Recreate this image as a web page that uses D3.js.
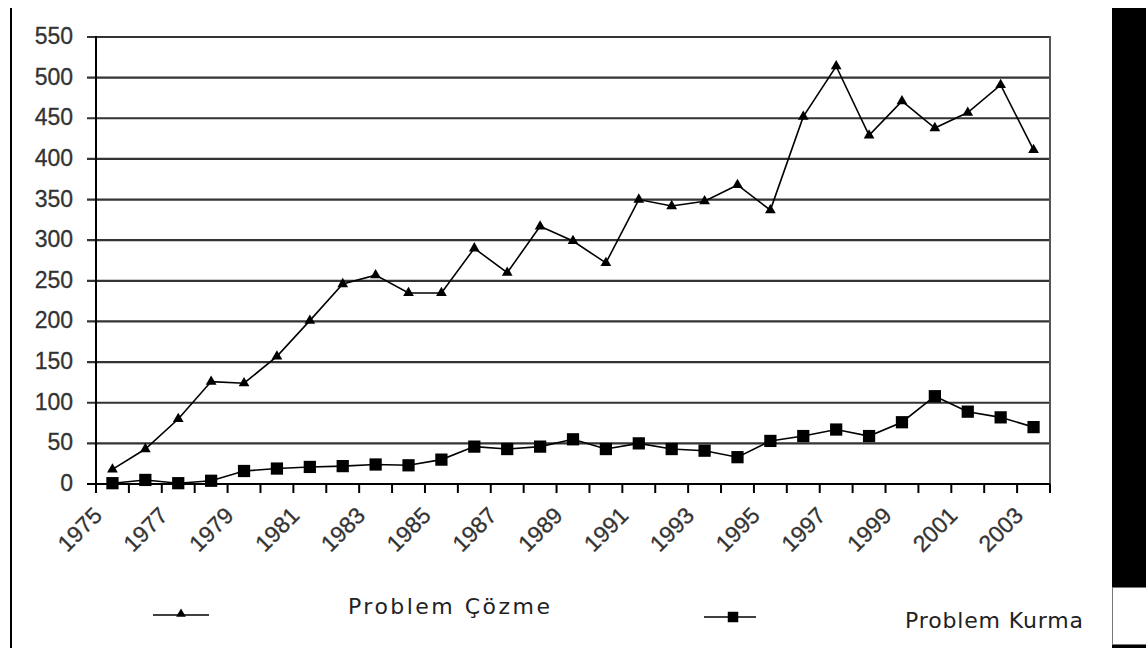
<!DOCTYPE html>
<html>
<head>
<meta charset="utf-8">
<script src="https://cdn.jsdelivr.net/npm/d3@7"></script>
<style>
  html, body { margin: 0; padding: 0; background: #fff; }
  svg { display: block; }
</style>
</head>
<body>
<svg id="chart" width="1146" height="648"></svg>
<script>
// Yearly counts, 1975–2003
const years = ["1975","1976","1977","1978","1979","1980","1981","1982","1983","1984",
  "1985","1986","1987","1988","1989","1990","1991","1992","1993","1994",
  "1995","1996","1997","1998","1999","2000","2001","2002","2003"];
const problemCozme = [18,43,80,126,124,157,201,246,257,235,
  235,290,260,317,299,272,350,342,348,368,
  337,452,514,429,471,438,457,491,411];
const problemKurma = [1,5,1,4,16,19,21,22,24,23,
  30,46,43,46,55,43,50,43,41,33,
  53,59,67,59,76,108,89,82,70];
const yTicks = [0,50,100,150,200,250,300,350,400,450,500,550];
const xLabels = ["1975","1977","1979","1981","1983","1985","1987","1989",
  "1991","1993","1995","1997","1999","2001","2003"];
const seriesNames = ["Problem Çözme", "Problem Kurma"];

const svg = d3.select("#chart");
const plotLeft = 96, plotRight = 1050, plotTop = 37, plotBottom = 484;

const x = d3.scaleBand().domain(years).range([plotLeft, plotRight]).padding(0);
const y = d3.scaleLinear().domain([0, 550]).range([plotBottom, plotTop]);
const cx = d => x(d) + x.bandwidth() / 2;

// page frame: left rule and right-hand black panel
svg.append("line").attr("x1", 11).attr("x2", 11).attr("y1", 8).attr("y2", 648)
  .attr("stroke", "#000").attr("stroke-width", 2);
svg.append("rect").attr("x", 1112).attr("y", 8).attr("width", 34).attr("height", 579)
  .attr("fill", "#000");
svg.append("rect").attr("x", 1112.5).attr("y", 587.5).attr("width", 40).attr("height", 57)
  .attr("fill", "#fff").attr("stroke", "#777").attr("stroke-width", 1);
svg.append("rect").attr("x", 1112).attr("y", 645).attr("width", 34).attr("height", 3)
  .attr("fill", "#000");

// horizontal gridlines with left-pointing ticks
svg.append("g").selectAll("line").data(yTicks.filter(v => v > 0)).join("line")
  .attr("x1", plotLeft - 9).attr("x2", plotRight)
  .attr("y1", d => y(d)).attr("y2", d => y(d))
  .attr("stroke", "#333").attr("stroke-width", 2.2);

// y tick labels
svg.append("g").selectAll("text").data(yTicks).join("text")
  .attr("x", 73).attr("y", d => y(d) + 7)
  .attr("text-anchor", "end")
  .attr("font-family", "'Liberation Sans', Arial, sans-serif")
  .attr("font-size", 23).attr("fill", "#333")
  .attr("stroke", "#333").attr("stroke-width", 0.3)
  .text(d => d);

// right border of the plot
svg.append("line").attr("x1", plotRight).attr("x2", plotRight)
  .attr("y1", plotTop - 1).attr("y2", plotBottom + 9)
  .attr("stroke", "#555").attr("stroke-width", 2);

// x axis line and category boundary ticks
svg.append("line").attr("x1", plotLeft - 9).attr("x2", plotRight)
  .attr("y1", plotBottom).attr("y2", plotBottom)
  .attr("stroke", "#000").attr("stroke-width", 2);
const bounds = years.map(d => x(d)).concat([plotRight]);
svg.append("g").selectAll("line").data(bounds).join("line")
  .attr("x1", d => d).attr("x2", d => d)
  .attr("y1", plotBottom).attr("y2", plotBottom + 9)
  .attr("stroke", "#000").attr("stroke-width", 2);

// y axis line
svg.append("line").attr("x1", plotLeft).attr("x2", plotLeft)
  .attr("y1", plotTop - 1).attr("y2", plotBottom + 9)
  .attr("stroke", "#000").attr("stroke-width", 2);

// rotated year labels
svg.append("g").selectAll("text").data(xLabels).join("text")
  .attr("transform", d => `translate(${cx(d) - 9},${plotBottom + 33}) rotate(-45)`)
  .attr("text-anchor", "end")
  .attr("font-family", "'Liberation Sans', Arial, sans-serif")
  .attr("font-size", 23).attr("fill", "#333")
  .attr("stroke", "#333").attr("stroke-width", 0.3)
  .text(d => d);

// series lines
const line = d3.line().x((d, i) => cx(years[i])).y(d => y(d));
svg.append("path").datum(problemCozme).attr("d", line)
  .attr("fill", "none").attr("stroke", "#000").attr("stroke-width", 1.6);
svg.append("path").datum(problemKurma).attr("d", line)
  .attr("fill", "none").attr("stroke", "#000").attr("stroke-width", 1.6);

// markers
const tri = d3.symbol().type(d3.symbolTriangle).size(50);
const sq = d3.symbol().type(d3.symbolSquare).size(150);
svg.append("g").selectAll("path").data(problemCozme).join("path")
  .attr("d", tri)
  .attr("transform", (d, i) => `translate(${cx(years[i])},${y(d)})`)
  .attr("fill", "#000");
svg.append("g").selectAll("path").data(problemKurma).join("path")
  .attr("d", sq)
  .attr("transform", (d, i) => `translate(${cx(years[i])},${y(d)})`)
  .attr("fill", "#000");

// legend
const legend = svg.append("g");
legend.append("line").attr("x1", 153).attr("x2", 209).attr("y1", 615).attr("y2", 615)
  .attr("stroke", "#000").attr("stroke-width", 1.6);
legend.append("path").attr("d", d3.symbol().type(d3.symbolTriangle).size(40))
  .attr("transform", "translate(181,614)").attr("fill", "#000");
legend.append("text").attr("x", 348).attr("y", 614)
  .attr("font-family", "'DejaVu Sans', Verdana, sans-serif")
  .attr("font-size", 22).attr("fill", "#222")
  .attr("textLength", 202).attr("lengthAdjust", "spacing")
  .text(seriesNames[0]);

legend.append("line").attr("x1", 704).attr("x2", 756).attr("y1", 617).attr("y2", 617)
  .attr("stroke", "#000").attr("stroke-width", 1.6);
legend.append("path").attr("d", d3.symbol().type(d3.symbolSquare).size(110))
  .attr("transform", "translate(733,617)").attr("fill", "#000");
legend.append("text").attr("x", 905).attr("y", 628)
  .attr("font-family", "'DejaVu Sans', Verdana, sans-serif")
  .attr("font-size", 22).attr("fill", "#222")
  .attr("textLength", 178).attr("lengthAdjust", "spacing")
  .text(seriesNames[1]);
</script>
</body>
</html>
